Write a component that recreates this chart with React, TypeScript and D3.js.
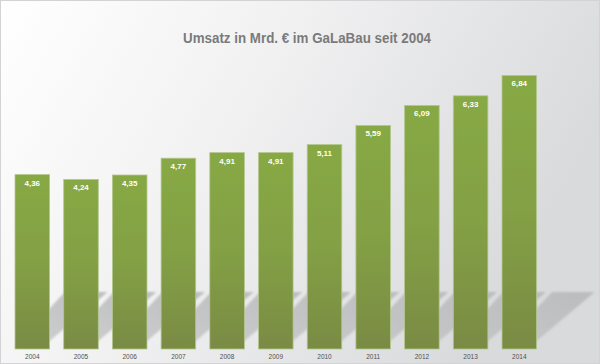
import React from 'react'
import * as d3 from 'd3'

const years = ['2004', '2005', '2006', '2007', '2008', '2009', '2010', '2011', '2012', '2013', '2014']
const umsatz = [4.36, 4.24, 4.35, 4.77, 4.91, 4.91, 5.11, 5.59, 6.09, 6.33, 6.84]
const title = 'Umsatz in Mrd. € im GaLaBau seit 2004'

const W = 600
const H = 364

export default function App() {
  const x = d3.scaleBand()
      .domain(years)
      .range([0.4, 551.2])
      .paddingInner(0.29)
      .paddingOuter(0.3)
  const y = d3.scaleLinear()
      .domain([0, 7])
      .range([349, 69])

  const yb = y(0)
  const fmt = (v: number) => d3.format('.2f')(v).replace('.', ',')

  // schatten nach hinten rechts oben
  const shadow = (year: string) => {
    const x0 = x(year) as number
    const x1 = x0 + x.bandwidth()
    const pts: [number, number][] = [
      [x0, yb - 4], [x1, yb - 8], [x1 + 58, yb - 57], [x0 + 50, yb - 57]
    ]
    return d3.line()(pts) + 'Z'
  }

  return (
    <svg width={W} height={H} style={{ position: 'absolute', left: 0, top: 0 }}
      fontFamily="'Liberation Sans', Arial, sans-serif">
      <defs>
        <linearGradient id="bg" x1="0" y1="0" x2="1" y2="0.35">
          <stop offset="0" stopColor="#ffffff" />
          <stop offset="0.45" stopColor="#f1f1f2" />
          <stop offset="1" stopColor="#d9dadc" />
        </linearGradient>
        <linearGradient id="bar" x1="0" y1="0" x2="0" y2="1">
          <stop offset="0" stopColor="#87a944" />
          <stop offset="0.5" stopColor="#83a045" />
          <stop offset="1" stopColor="#7a8b44" />
        </linearGradient>
        <linearGradient id="shade" x1="0" y1="1" x2="1" y2="0">
          <stop offset="0" stopColor="#b9babc" stopOpacity="0.6" />
          <stop offset="1" stopColor="#b9babc" stopOpacity="0.95" />
        </linearGradient>
        <filter id="blur" x="-20%" y="-20%" width="140%" height="140%">
          <feGaussianBlur stdDeviation="1.3" />
        </filter>
      </defs>

      <rect x={0.5} y={0.5} width={W - 1} height={H - 1} fill="url(#bg)" stroke="#d3d3d5" />

      <text x={307} y={42.7} textAnchor="middle" fontSize={14} fontWeight="bold"
        fill="#7a7a7b" textLength={248} lengthAdjust="spacingAndGlyphs">{title}</text>

      <g filter="url(#blur)">
        {years.map((yr) => (
          <path key={yr} d={shadow(yr)} fill="url(#shade)" />
        ))}
      </g>

      {years.map((yr, i) => (
        <g key={yr}>
          <rect x={x(yr)} y={y(umsatz[i])} width={x.bandwidth()} height={yb - y(umsatz[i])}
            fill="url(#bar)" stroke="#b4c78e" strokeWidth={0.8} />
          <text x={(x(yr) as number) + x.bandwidth() / 2} y={y(umsatz[i]) + 11}
            textAnchor="middle" fontSize={8} fontWeight="bold" fill="#ffffff">{fmt(umsatz[i])}</text>
          <text x={(x(yr) as number) + x.bandwidth() / 2} y={358.5}
            textAnchor="middle" fontSize={6.5} fill="#505050">{yr}</text>
        </g>
      ))}
    </svg>
  )
}
